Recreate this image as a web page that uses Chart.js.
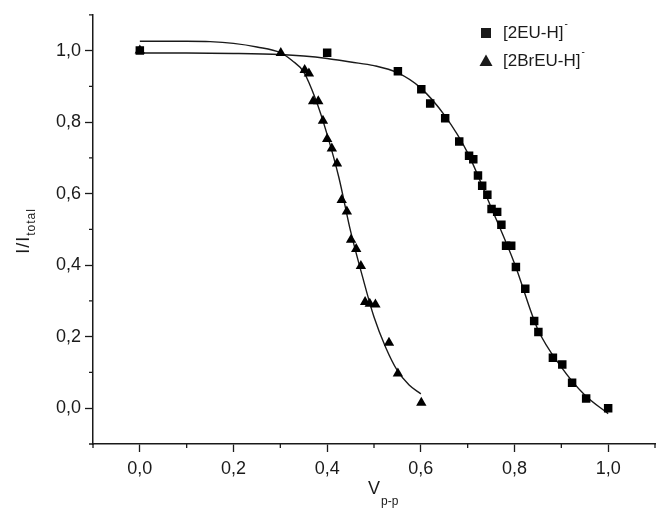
<!DOCTYPE html>
<html>
<head>
<meta charset="utf-8">
<script src="https://cdn.jsdelivr.net/npm/chart.js@4.4.1/dist/chart.umd.min.js"></script>
<style>
  html, body { margin: 0; padding: 0; background: #fff; }
</style>
</head>
<body>
<canvas id="chart" width="661" height="513"></canvas>
<script>
// [2EU-H]- measurements
const xEU = [0, 0.40, 0.551, 0.601, 0.620, 0.652, 0.682, 0.703, 0.712, 0.722, 0.731, 0.742, 0.751,
  0.763, 0.772, 0.782, 0.793, 0.803, 0.823, 0.842, 0.851, 0.882, 0.902, 0.923, 0.953, 1.0];
const yEU = [1.0, 0.994, 0.942, 0.892, 0.852, 0.811, 0.746, 0.706, 0.696, 0.651, 0.622, 0.597, 0.557,
  0.549, 0.513, 0.454, 0.454, 0.395, 0.334, 0.244, 0.213, 0.141, 0.122, 0.071, 0.027, 0.0];

// [2BrEU-H]- measurements
const xBr = [0, 0.301, 0.352, 0.361, 0.370, 0.381, 0.391, 0.400, 0.410, 0.421, 0.431, 0.442, 0.451,
  0.462, 0.472, 0.481, 0.491, 0.503, 0.532, 0.551, 0.601];
const yBr = [1.0, 0.993, 0.946, 0.936, 0.858, 0.858, 0.804, 0.753, 0.726, 0.684, 0.582, 0.550, 0.471,
  0.445, 0.398, 0.297, 0.292, 0.290, 0.183, 0.097, 0.015];

// fitted curves
const fitEUx = [0, 0.1, 0.2, 0.3, 0.35, 0.4, 0.45, 0.5, 0.55, 0.6, 0.65, 0.7, 0.75, 0.8, 0.85, 0.9, 0.95, 1.0];
const fitEUy = [0.993, 0.993, 0.992, 0.989, 0.985, 0.978, 0.968, 0.958, 0.938, 0.895, 0.82, 0.714, 0.562,
  0.405, 0.22, 0.115, 0.037, -0.015];
const fitBrx = [0, 0.1, 0.15, 0.2, 0.25, 0.3, 0.325, 0.35, 0.375, 0.4, 0.425, 0.45, 0.475, 0.5, 0.525,
  0.55, 0.575, 0.6];
const fitBry = [1.026, 1.026, 1.025, 1.02, 1.01, 0.994, 0.972, 0.94, 0.865, 0.765, 0.645, 0.495, 0.37,
  0.255, 0.17, 0.105, 0.065, 0.04];

// axis ticks
const majorTicks = [0, 0.2, 0.4, 0.6, 0.8, 1.0];
const minorTicks = [-0.1, 0.1, 0.3, 0.5, 0.7, 0.9, 1.1];
const legendNames = ["[2EU-H]", "[2BrEU-H]"];

const FONT = "Arial, 'Liberation Sans', sans-serif";
const INK = "#1a1a1a";

const pts = (xs, ys) => xs.map((x, i) => ({ x, y: ys[i] }));

// short unlabeled ticks between the labeled ones
const minorTickPlugin = {
  id: "minorTicks",
  afterDraw(chart) {
    const { ctx, scales: { x, y } } = chart;
    ctx.save();
    ctx.strokeStyle = INK;
    ctx.lineWidth = 1.3;
    ctx.beginPath();
    minorTicks.forEach(v => {
      const px = x.getPixelForValue(v);
      ctx.moveTo(px, x.top);
      ctx.lineTo(px, x.top + 4);
      const py = y.getPixelForValue(v);
      ctx.moveTo(y.right, py);
      ctx.lineTo(y.right - 4, py);
    });
    ctx.stroke();
    ctx.restore();
  }
};

// axis titles with subscripts, legend with superscript charge
const textPlugin = {
  id: "texts",
  afterDraw(chart) {
    const ctx = chart.ctx;
    ctx.save();
    ctx.fillStyle = INK;
    ctx.textBaseline = "alphabetic";
    ctx.textAlign = "left";

    // y title
    ctx.save();
    ctx.translate(29, 231);
    ctx.rotate(-Math.PI / 2);
    ctx.letterSpacing = "1px";
    ctx.font = "18px " + FONT;
    const wMain = ctx.measureText("I/I").width;
    ctx.font = "12px " + FONT;
    const wSub = ctx.measureText("total").width;
    const start = -(wMain + wSub) / 2;
    ctx.font = "18px " + FONT;
    ctx.fillText("I/I", start, 0);
    ctx.font = "12px " + FONT;
    ctx.fillText("total", start + wMain, 6);
    ctx.restore();

    // x title
    ctx.font = "18px " + FONT;
    ctx.fillText("V", 368, 494);
    ctx.font = "12px " + FONT;
    ctx.fillText("p-p", 381, 505);

    // legend
    const rows = [{ y: 33, shape: "rect" }, { y: 61, shape: "triangle" }];
    rows.forEach((r, i) => {
      const cx = 486;
      ctx.beginPath();
      if (r.shape === "rect") {
        ctx.rect(cx - 5, r.y - 5, 10, 10);
      } else {
        ctx.moveTo(cx, r.y - 6.5);
        ctx.lineTo(cx + 6.5, r.y + 5);
        ctx.lineTo(cx - 6.5, r.y + 5);
        ctx.closePath();
      }
      ctx.fill();
      ctx.font = "17px " + FONT;
      ctx.textBaseline = "middle";
      ctx.fillText(legendNames[i], 503, r.y);
      const w = ctx.measureText(legendNames[i]).width;
      ctx.font = "10px " + FONT;
      ctx.fillText("-", 503 + w + 1, r.y - 9);
    });
    ctx.restore();
  }
};

const axisBase = {
  type: "linear",
  min: -0.1,
  max: 1.1,
  afterBuildTicks: s => { s.ticks = majorTicks.map(v => ({ value: v })); },
  grid: { drawOnChartArea: false, drawTicks: true, tickLength: 8, tickColor: INK, tickWidth: 1.3 },
  border: { display: true, color: INK, width: 1.5 },
};

new Chart(document.getElementById("chart"), {
  type: "scatter",
  data: {
    datasets: [
      {
        label: "fit EU",
        data: pts(fitEUx, fitEUy),
        showLine: true,
        pointRadius: 0,
        borderColor: INK,
        borderWidth: 1.4,
        cubicInterpolationMode: "monotone",
        order: 3
      },
      {
        label: "fit BrEU",
        data: pts(fitBrx, fitBry),
        showLine: true,
        pointRadius: 0,
        borderColor: INK,
        borderWidth: 1.4,
        cubicInterpolationMode: "monotone",
        order: 3
      },
      {
        label: legendNames[0],
        data: pts(xEU, yEU),
        pointStyle: "rect",
        pointRadius: 6,
        backgroundColor: "#000",
        borderColor: "#000",
        borderWidth: 0,
        order: 1
      },
      {
        label: legendNames[1],
        data: pts(xBr, yBr),
        pointStyle: "triangle",
        pointRadius: 6,
        backgroundColor: "#000",
        borderColor: "#000",
        borderWidth: 0,
        order: 1
      }
    ]
  },
  options: {
    responsive: false,
    animation: false,
    layout: { padding: { top: 14, right: 1, left: 0, bottom: 0 } },
    plugins: { legend: { display: false }, tooltip: { enabled: false } },
    scales: {
      x: {
        ...axisBase,
        afterFit: s => { s.height = 69; },
        ticks: {
          color: INK, padding: 6, font: { family: FONT, size: 18 },
          callback: v => v.toFixed(1).replace(".", ",")
        }
      },
      y: {
        ...axisBase,
        afterFit: s => { s.width = 93; },
        ticks: {
          color: INK, padding: 4, font: { family: FONT, size: 18 },
          callback: v => v.toFixed(1).replace(".", ",")
        }
      }
    }
  },
  plugins: [minorTickPlugin, textPlugin]
});
</script>
</body>
</html>
